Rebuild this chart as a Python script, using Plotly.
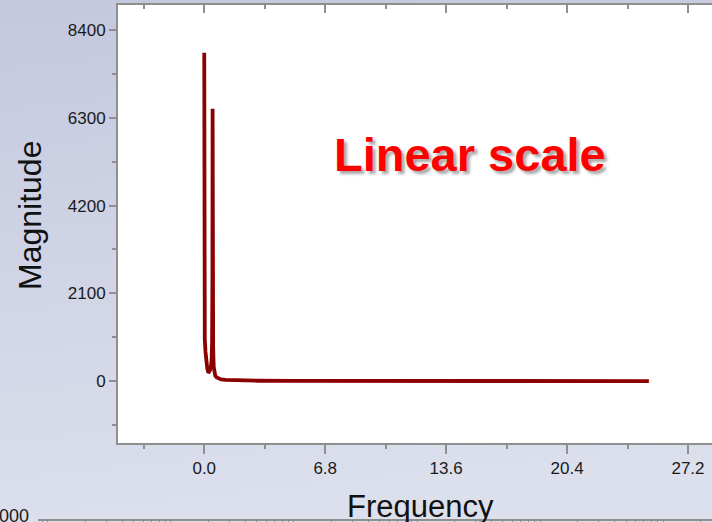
import base64
import plotly.graph_objects as go

# ---- data ----
freq = [0.0, 0.0, 0.03, 0.07, 0.12, 0.17, 0.22, 0.27, 0.32, 0.37, 0.41, 0.44,
        0.46, 0.47, 0.48, 0.50, 0.53, 0.57, 0.62, 0.70, 0.80, 0.95, 1.2, 1.6,
        2.2, 3.0, 5.0, 8.0, 12.0, 16.0, 20.0, 25.0]
magnitude = [7860, 1270, 1000, 700, 450, 300, 230, 225, 260, 330, 480, 900,
             2500, 6520, 2500, 800, 350, 200, 130, 90, 60, 40, 28, 20,
             14, 10, 7, 5, 4, 3, 3, 2]

x_ticks = [0.0, 6.8, 13.6, 20.4, 27.2]
y_ticks = [0, 2100, 4200, 6300, 8400]

# ---- geometry (pixels) ----
W, H = 712, 522
ML, MT, MB, MR = 38, 5, 0, 0
PW, PH = W - ML - MR, H - MT - MB


def px(x):
    return (x - ML) / PW


def py(y):
    return (H - MB - y) / PH


FONT = "Liberation Sans, Arial, sans-serif"
AXC = "#8f8f8f"

svg = (
    "<svg xmlns='http://www.w3.org/2000/svg' width='712' height='522' preserveAspectRatio='none'>"
    "<defs><linearGradient id='g' x1='0' y1='0' x2='0.15' y2='1'>"
    "<stop offset='0' stop-color='#c3c8de'/><stop offset='1' stop-color='#dcdfec'/>"
    "</linearGradient></defs><rect width='712' height='522' fill='url(#g)'/></svg>"
)
bg_uri = "data:image/svg+xml;base64," + base64.b64encode(svg.encode()).decode()

fig = go.Figure()
fig.add_trace(go.Scatter(
    x=freq, y=magnitude, mode="lines",
    line=dict(color="#8b0000", width=3.8),
    hoverinfo="skip", showlegend=False,
))
# empty helper traces so the extra axes get drawn
fig.add_trace(go.Scatter(x=[], y=[], xaxis="x3", yaxis="y",
                         hoverinfo="skip", showlegend=False))
fig.add_trace(go.Scatter(x=[], y=[], xaxis="x2", yaxis="y",
                         hoverinfo="skip", showlegend=False))

xrange = [-4.85, 28.55]
yrange = [-1480, 9000]
x_dom0 = px(118)
y_dom0 = py(443)

fig.update_layout(
    width=W, height=H,
    margin=dict(l=ML, r=MR, t=MT, b=MB, pad=0),
    paper_bgcolor="#cfd3e6",
    plot_bgcolor="rgba(0,0,0,0)",
    font=dict(family=FONT, color="#1a1a1a", size=17),
    xaxis=dict(
        domain=[x_dom0, 1], range=xrange, anchor="y",
        tickvals=x_ticks, ticktext=[f"{v:.1f}" for v in x_ticks],
        ticks="outside", ticklen=9, tickwidth=1.5, tickcolor=AXC,
        minor=dict(dtick=3.4, tick0=0, ticks="outside", ticklen=4,
                   tickwidth=1.5, tickcolor=AXC),
        showline=True, linecolor=AXC, linewidth=2,
        showgrid=False, zeroline=False, automargin=False,
        tickfont=dict(size=17, color="#1a1a1a"),
    ),
    xaxis3=dict(
        overlaying="x", side="top", anchor="y", range=xrange,
        tickvals=x_ticks, showticklabels=False,
        ticks="inside", ticklen=8, tickwidth=1.5, tickcolor=AXC,
        minor=dict(dtick=3.4, tick0=0, ticks="inside", ticklen=4,
                   tickwidth=1.5, tickcolor=AXC),
        showline=True, linecolor=AXC, linewidth=2,
        showgrid=False, zeroline=False, automargin=False,
    ),
    yaxis=dict(
        domain=[y_dom0, 1], range=yrange, anchor="x",
        tickvals=y_ticks, ticktext=[str(v) for v in y_ticks],
        ticks="outside", ticklen=7, tickwidth=1.5, tickcolor=AXC,
        minor=dict(dtick=1050, tick0=0, ticks="outside", ticklen=4,
                   tickwidth=1.5, tickcolor=AXC),
        showline=True, linecolor=AXC, linewidth=2,
        showgrid=False, zeroline=False, automargin=False,
        tickfont=dict(size=17, color="#1a1a1a"),
    ),
    # the next chart's top axis, cut off at the bottom of the picture
    xaxis2=dict(
        type="log", domain=[0, 1], range=[-0.081, 5.398],
        anchor="free", position=py(519.5),
        dtick="D1", showticklabels=False,
        ticks="outside", ticklen=6, tickwidth=1.2, tickcolor=AXC,
        showline=True, linecolor=AXC, linewidth=1.5,
        showgrid=False, zeroline=False, automargin=False,
    ),
    images=[dict(
        source=bg_uri, xref="paper", yref="paper",
        x=-ML / PW, y=1 + MT / PH, sizex=W / PW, sizey=H / PH,
        xanchor="left", yanchor="top", sizing="stretch", layer="below",
    )],
    shapes=[dict(
        type="rect", xref="paper", yref="paper",
        x0=x_dom0, x1=1.01, y0=y_dom0, y1=1,
        fillcolor="white", line=dict(width=0), layer="below",
    )],
    annotations=[
        dict(text="Linear scale", xref="paper", yref="paper",
             x=px(470), y=py(154), xanchor="center", yanchor="middle",
             showarrow=False,
             font=dict(family=FONT, size=47, color="#ff0000", weight="bold",
                       shadow="3px 3px 3px rgba(0,0,0,0.35)")),
        dict(text="Magnitude", xref="paper", yref="paper",
             x=px(30), y=py(216), xanchor="center", yanchor="middle",
             textangle=-90, showarrow=False,
             font=dict(family=FONT, size=32, color="#111111")),
        dict(text="Frequency", xref="paper", yref="paper",
             x=px(420), y=py(506), xanchor="center", yanchor="middle",
             showarrow=False,
             font=dict(family=FONT, size=31, color="#111111")),
        dict(text="1000", xref="paper", yref="paper",
             x=px(31), y=py(516), xanchor="right", yanchor="middle",
             showarrow=False,
             font=dict(family=FONT, size=18, color="#1a1a1a")),
    ],
)

fig.write_html("out.html",
               config={"displayModeBar": False},
               post_script="document.body.style.margin='0';document.body.style.overflow='hidden';")
